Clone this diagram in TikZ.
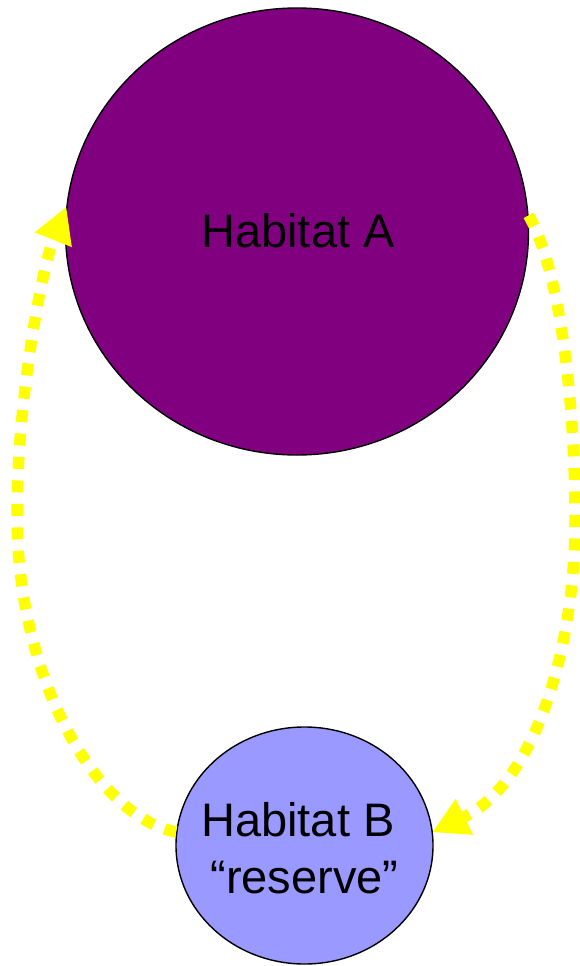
\documentclass[tikz,border=0pt]{standalone}
\usepackage{fontspec}
\setmainfont{Liberation Sans}
\usetikzlibrary{shapes.geometric,arrows.meta}
\definecolor{habA}{RGB}{128,0,128}
\definecolor{habB}{RGB}{153,153,255}
\definecolor{flow}{RGB}{255,255,0}
\begin{document}
\begin{tikzpicture}[x=1pt,y=-1pt,
  habitat/.style={ellipse, draw=black, line width=1.4pt, inner sep=0pt},
  label/.style={font=\fontsize{47}{57}\selectfont, text=black, align=center, inner sep=0pt},
  migrate/.style={draw=flow, line width=11.5pt, dash pattern=on 12pt off 11.5pt,
    -{Triangle[length=35pt,width=40pt,line width=0pt]}}]
\useasboundingbox (0,0) rectangle (580,966);
\node[habitat, fill=habA, minimum width=463pt, minimum height=447pt] (A) at (297,231.5) {};
\node[habitat, fill=habB, minimum width=257pt, minimum height=237pt] (B) at (304.5,845.5) {};
\node[label] (Atext) at (298,231) {Habitat A};
\node[label] (Btext) at (304.5,848) {Habitat B\kern0.28em\\“reserve”};
\coordinate (L) at (17,515);
\coordinate (R) at (575,520);
\draw[migrate] (A.4) .. controls (560,270) and (575,400) .. (R)
  .. controls (575,660) and (530,785) .. (B.6);
\draw[migrate] (B.174) .. controls (97,817) and (17,680) .. (L)
  .. controls (17,400) and (42,268) .. (A.174);
\end{tikzpicture}
\end{document}
